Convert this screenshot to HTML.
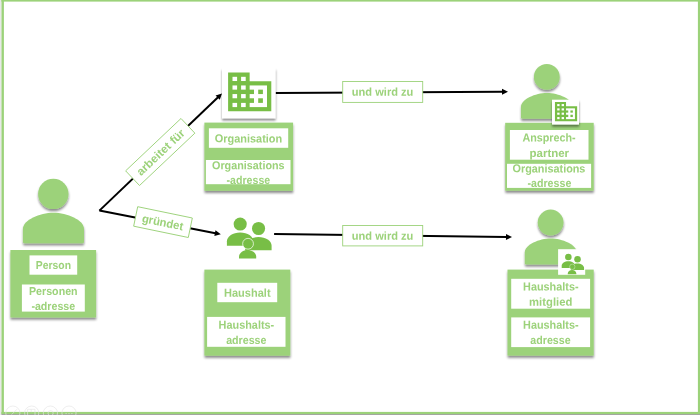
<!DOCTYPE html>
<html lang="de">
<head>
<meta charset="utf-8">
<title>Person, Organisation, Haushalt</title>
<style>
html,body{margin:0;padding:0;background:#fff;}
body{width:700px;height:415px;overflow:hidden;font-family:'Liberation Sans', sans-serif;}
svg{display:block;will-change:transform;}
svg text{font-family:'Liberation Sans', sans-serif;font-weight:bold;fill:#9CD27A;text-anchor:middle;-webkit-font-smoothing:antialiased;text-rendering:geometricPrecision;}
</style>
</head>
<body>
<svg width="700" height="415" viewBox="0 0 700 415">
<defs>
<filter id="sh" x="-20%" y="-20%" width="140%" height="150%">
<feDropShadow dx="0.15" dy="2.2" stdDeviation="1.3" flood-color="#000" flood-opacity="0.45"/>
</filter>
</defs>
<rect width="700" height="415" fill="#fff"/>

<rect x="0" y="0" width="1.5" height="415" fill="#e8e8e8"/>
<rect x="1.5" y="0" width="2.4" height="414" fill="#9CD27A"/>
<rect x="1.4" y="0" width="698.6" height="1.6" fill="#9CD27A"/>
<rect x="697.9" y="0" width="2.1" height="414" fill="#9CD27A"/>
<rect x="1.4" y="411.9" width="698.6" height="2.1" fill="#9CD27A"/>
<rect x="1.4" y="414" width="698.6" height="1" fill="#a3a7a0"/>
<g fill="none" stroke="#e4e4e4" stroke-opacity="0.8" stroke-width="0.8"><circle cx="12.85" cy="413.1" r="7.1"/><circle cx="31.7" cy="413.1" r="7.1"/><circle cx="50.4" cy="413.1" r="7.1"/><circle cx="69.0" cy="413.1" r="7.1"/><path d="M11.6 414.6L17 409.2"/><path d="M27.6 415V409.3H35V415M31.2 409.3V412.2"/><circle cx="50.6" cy="413.2" r="2.6"/><path d="M65.5 413.6h1.2M68.4 413.6h1.2M71.3 413.6h1.2"/></g>
<line x1="99.4" y1="210.6" x2="218.02" y2="97.30" stroke="#000" stroke-width="2.0"/><path fill="#000" d="M222.00 93.50L219.73 99.81L215.59 95.47Z"/>
<line x1="99.4" y1="210.6" x2="215.40" y2="233.25" stroke="#000" stroke-width="2.0"/><path fill="#000" d="M220.80 234.30L214.34 236.09L215.49 230.21Z"/>
<line x1="275.6" y1="92.9" x2="502.50" y2="91.73" stroke="#000" stroke-width="2.0"/><path fill="#000" d="M508.00 91.70L502.02 94.73L501.98 88.73Z"/>
<line x1="274.1" y1="234.0" x2="506.50" y2="237.03" stroke="#000" stroke-width="2.0"/><path fill="#000" d="M512.00 237.10L505.96 240.02L506.04 234.02Z"/>
<g transform="translate(160.25 152.0) rotate(-43.4)"><rect x="-38.1" y="-10.1" width="76.2" height="20.2" fill="#fff" stroke="#9CD27A" stroke-width="0.9"/><text x="0" y="4.4" font-size="11.5" textLength="61.6" lengthAdjust="spacingAndGlyphs">arbeitet für</text></g>
<g transform="translate(163.0 222.1) rotate(11.7)"><rect x="-27.9" y="-9.95" width="55.8" height="19.9" fill="#fff" stroke="#9CD27A" stroke-width="0.9"/><text x="-0.3" y="4.2" font-size="11.5" textLength="41.8" lengthAdjust="spacingAndGlyphs">gründet</text></g>
<rect x="342.7" y="81.5" width="80" height="20.9" fill="#fff" stroke="#9CD27A" stroke-width="0.9"/>
<text x="382.6" y="95.8" font-size="11.5" textLength="61.5" lengthAdjust="spacingAndGlyphs" transform="rotate(0.03 382.6 95.8)">und wird zu</text>
<rect x="342.7" y="225.5" width="80" height="20.4" fill="#fff" stroke="#9CD27A" stroke-width="0.9"/>
<text x="382.6" y="239.8" font-size="11.5" textLength="61.5" lengthAdjust="spacingAndGlyphs" transform="rotate(0.03 382.6 239.8)">und wird zu</text>
<g fill="#9CD27A" filter="url(#sh)"><circle cx="53.30" cy="193.90" r="15.20"/><path d="M22.90 241.70 V229.00 C22.90 220.00 40.00 212.80 53.40 212.80 C67.00 212.80 84.00 220.00 84.00 229.00 V241.70 Q84.00 243.20 82.50 243.20 H24.40 Q22.90 243.20 22.90 241.70Z"/></g>
<rect x="10.4" y="250" width="85.70" height="67.50" fill="#9CD27A" filter="url(#sh)"/>
<rect x="29.5" y="255.4" width="47.70" height="19.30" fill="#fff"/>
<rect x="21.9" y="284.5" width="62.90" height="27.10" fill="#fff"/>
<text x="53.4" y="269" font-size="11.5" textLength="35.2" lengthAdjust="spacingAndGlyphs" transform="rotate(0.03 53.4 269)">Person</text>
<text x="53.3" y="295.3" font-size="11.5" textLength="48.6" lengthAdjust="spacingAndGlyphs" transform="rotate(0.03 53.3 295.3)">Personen</text>
<text x="53.3" y="310.2" font-size="11.5" textLength="43.8" lengthAdjust="spacingAndGlyphs" transform="rotate(0.03 53.3 310.2)">-adresse</text>
<rect x="222" y="68.1" width="53.5" height="50.2" fill="#fff" filter="url(#sh)"/>
<path fill="#78BE46" d="M228.10 72.50H249.65V81.13H271.30V111.22H228.10Z"/><rect fill="#fff" x="232.50" y="76.81" width="4.60" height="4.21"/><rect fill="#fff" x="241.10" y="76.81" width="4.60" height="4.21"/><rect fill="#fff" x="232.50" y="85.44" width="4.60" height="4.21"/><rect fill="#fff" x="241.10" y="85.44" width="4.60" height="4.21"/><rect fill="#fff" x="232.50" y="94.06" width="4.60" height="4.21"/><rect fill="#fff" x="241.10" y="94.06" width="4.60" height="4.21"/><rect fill="#fff" x="232.50" y="102.89" width="4.60" height="4.21"/><rect fill="#fff" x="241.10" y="102.89" width="4.60" height="4.21"/><rect fill="#fff" x="249.65" y="85.44" width="17.35" height="21.66"/><rect fill="#78BE46" x="249.00" y="89.65" width="5.00" height="4.41"/><rect fill="#78BE46" x="258.20" y="89.65" width="4.70" height="4.41"/><rect fill="#78BE46" x="249.00" y="98.28" width="5.00" height="4.61"/><rect fill="#78BE46" x="258.20" y="98.28" width="4.70" height="4.61"/>
<rect x="204.4" y="122.6" width="88.70" height="68.20" fill="#9CD27A" filter="url(#sh)"/>
<rect x="208.9" y="128.3" width="79.30" height="19.50" fill="#fff"/>
<rect x="205.9" y="160" width="84.60" height="24.20" fill="#fff"/>
<text x="248.5" y="142.4" font-size="11.5" textLength="67.4" lengthAdjust="spacingAndGlyphs" transform="rotate(0.03 248.5 142.4)">Organisation</text>
<text x="248.3" y="169.3" font-size="11.5" textLength="72.6" lengthAdjust="spacingAndGlyphs" transform="rotate(0.03 248.3 169.3)">Organisations</text>
<text x="248.4" y="183.9" font-size="11.5" textLength="43.6" lengthAdjust="spacingAndGlyphs" transform="rotate(0.03 248.4 183.9)">-adresse</text>
<g fill="#78BE46"><circle cx="240.20" cy="224.05" r="6.55"/><path d="M226.90 245.85V241.31C226.90 236.44 232.85 232.50 240.20 232.50C247.55 232.50 253.50 236.44 253.50 241.31V245.85Z"/><circle cx="258.55" cy="228.50" r="6.55"/><path d="M245.20 250.20V245.75C245.20 240.97 251.11 237.10 258.40 237.10C265.69 237.10 271.60 240.97 271.60 245.75V250.20Z"/><circle cx="248.05" cy="243.75" r="5.40" stroke="#fff" stroke-width="0.70"/><path d="M239.00 258.60V256.86C239.00 253.02 242.85 249.90 247.60 249.90C252.35 249.90 256.20 253.02 256.20 256.86V258.60Z"/></g>
<rect x="204.4" y="269.6" width="85.90" height="86.10" fill="#9CD27A" filter="url(#sh)"/>
<rect x="217.3" y="282.8" width="59.90" height="19.40" fill="#fff"/>
<rect x="207.1" y="316.9" width="78.40" height="29.90" fill="#fff"/>
<text x="247.3" y="296.7" font-size="11.5" textLength="46.6" lengthAdjust="spacingAndGlyphs" transform="rotate(0.03 247.3 296.7)">Haushalt</text>
<text x="246.4" y="328.7" font-size="11.5" textLength="55.6" lengthAdjust="spacingAndGlyphs" transform="rotate(0.03 246.4 328.7)">Haushalts-</text>
<text x="246.3" y="343.8" font-size="11.5" textLength="40.3" lengthAdjust="spacingAndGlyphs" transform="rotate(0.03 246.3 343.8)">adresse</text>
<g fill="#9CD27A" filter="url(#sh)"><circle cx="546.81" cy="76.92" r="12.92"/><path d="M520.98 117.55 V106.76 C520.98 99.11 535.51 92.99 546.90 92.99 C558.46 92.99 572.91 99.11 572.91 106.76 V117.55 Q572.91 118.82 571.63 118.82 H522.25 Q520.98 118.82 520.98 117.55Z"/></g>
<rect x="505.2" y="122.8" width="88.50" height="67.90" fill="#9CD27A" filter="url(#sh)"/>
<rect x="509.9" y="130" width="78.60" height="29.70" fill="#fff"/>
<rect x="507.0" y="163.8" width="84.10" height="24.10" fill="#fff"/>
<text x="549.0" y="141.5" font-size="11.5" textLength="53.2" lengthAdjust="spacingAndGlyphs" transform="rotate(0.03 549.0 141.5)">Ansprech-</text>
<text x="549.3" y="156.9" font-size="11.5" textLength="39.6" lengthAdjust="spacingAndGlyphs" transform="rotate(0.03 549.3 156.9)">partner</text>
<text x="549.0" y="172.4" font-size="11.5" textLength="72.8" lengthAdjust="spacingAndGlyphs" transform="rotate(0.03 549.0 172.4)">Organisations</text>
<text x="549.4" y="187.4" font-size="11.5" textLength="43.8" lengthAdjust="spacingAndGlyphs" transform="rotate(0.03 549.4 187.4)">-adresse</text>
<rect x="552" y="99.7" width="27" height="24.8" fill="#fff" filter="url(#sh)"/>
<path fill="#78BE46" d="M554.95 101.90H566.03V106.20H577.15V121.20H554.95Z"/><rect fill="#fff" x="557.21" y="104.05" width="2.36" height="2.10"/><rect fill="#fff" x="561.63" y="104.05" width="2.36" height="2.10"/><rect fill="#fff" x="557.21" y="108.35" width="2.36" height="2.10"/><rect fill="#fff" x="561.63" y="108.35" width="2.36" height="2.10"/><rect fill="#fff" x="557.21" y="112.65" width="2.36" height="2.10"/><rect fill="#fff" x="561.63" y="112.65" width="2.36" height="2.10"/><rect fill="#fff" x="557.21" y="117.05" width="2.36" height="2.10"/><rect fill="#fff" x="561.63" y="117.05" width="2.36" height="2.10"/><rect fill="#fff" x="566.03" y="108.35" width="8.92" height="10.80"/><rect fill="#78BE46" x="565.69" y="110.45" width="2.57" height="2.20"/><rect fill="#78BE46" x="570.42" y="110.45" width="2.42" height="2.20"/><rect fill="#78BE46" x="565.69" y="114.75" width="2.57" height="2.30"/><rect fill="#78BE46" x="570.42" y="114.75" width="2.42" height="2.30"/>
<g fill="#9CD27A" filter="url(#sh)"><circle cx="550.62" cy="222.52" r="12.92"/><path d="M524.78 263.15 V252.36 C524.78 244.71 539.31 238.59 550.70 238.59 C562.26 238.59 576.71 244.71 576.71 252.36 V263.15 Q576.71 264.43 575.44 264.43 H526.05 Q524.78 264.43 524.78 263.15Z"/></g>
<rect x="507.5" y="269.6" width="86.20" height="86.05" fill="#9CD27A" filter="url(#sh)"/>
<rect x="511.2" y="278.8" width="78.90" height="29.90" fill="#fff"/>
<rect x="511.2" y="317.4" width="78.90" height="29.70" fill="#fff"/>
<text x="550.8" y="290.5" font-size="11.5" textLength="55.5" lengthAdjust="spacingAndGlyphs" transform="rotate(0.03 550.8 290.5)">Haushalts-</text>
<text x="550.7" y="305.7" font-size="11.5" textLength="43.2" lengthAdjust="spacingAndGlyphs" transform="rotate(0.03 550.7 305.7)">mitglied</text>
<text x="550.8" y="328.7" font-size="11.5" textLength="55.5" lengthAdjust="spacingAndGlyphs" transform="rotate(0.03 550.8 328.7)">Haushalts-</text>
<text x="550.5" y="343.8" font-size="11.5" textLength="40.3" lengthAdjust="spacingAndGlyphs" transform="rotate(0.03 550.5 343.8)">adresse</text>
<rect x="558.1" y="249.2" width="27.1" height="25.6" fill="#fff"/>
<g fill="#78BE46"><circle cx="568.35" cy="256.98" r="3.27"/><path d="M561.70 267.88V265.61C561.70 263.17 564.68 261.20 568.35 261.20C572.02 261.20 575.00 263.17 575.00 265.61V267.88Z"/><circle cx="577.53" cy="259.20" r="3.27"/><path d="M570.85 270.05V267.82C570.85 265.44 573.80 263.50 577.45 263.50C581.10 263.50 584.05 265.44 584.05 267.82V270.05Z"/><circle cx="572.28" cy="266.82" r="2.70" stroke="#fff" stroke-width="0.35"/><path d="M567.75 274.25V273.38C567.75 271.46 569.68 269.90 572.05 269.90C574.42 269.90 576.35 271.46 576.35 273.38V274.25Z"/></g>
</svg>
</body>
</html>
